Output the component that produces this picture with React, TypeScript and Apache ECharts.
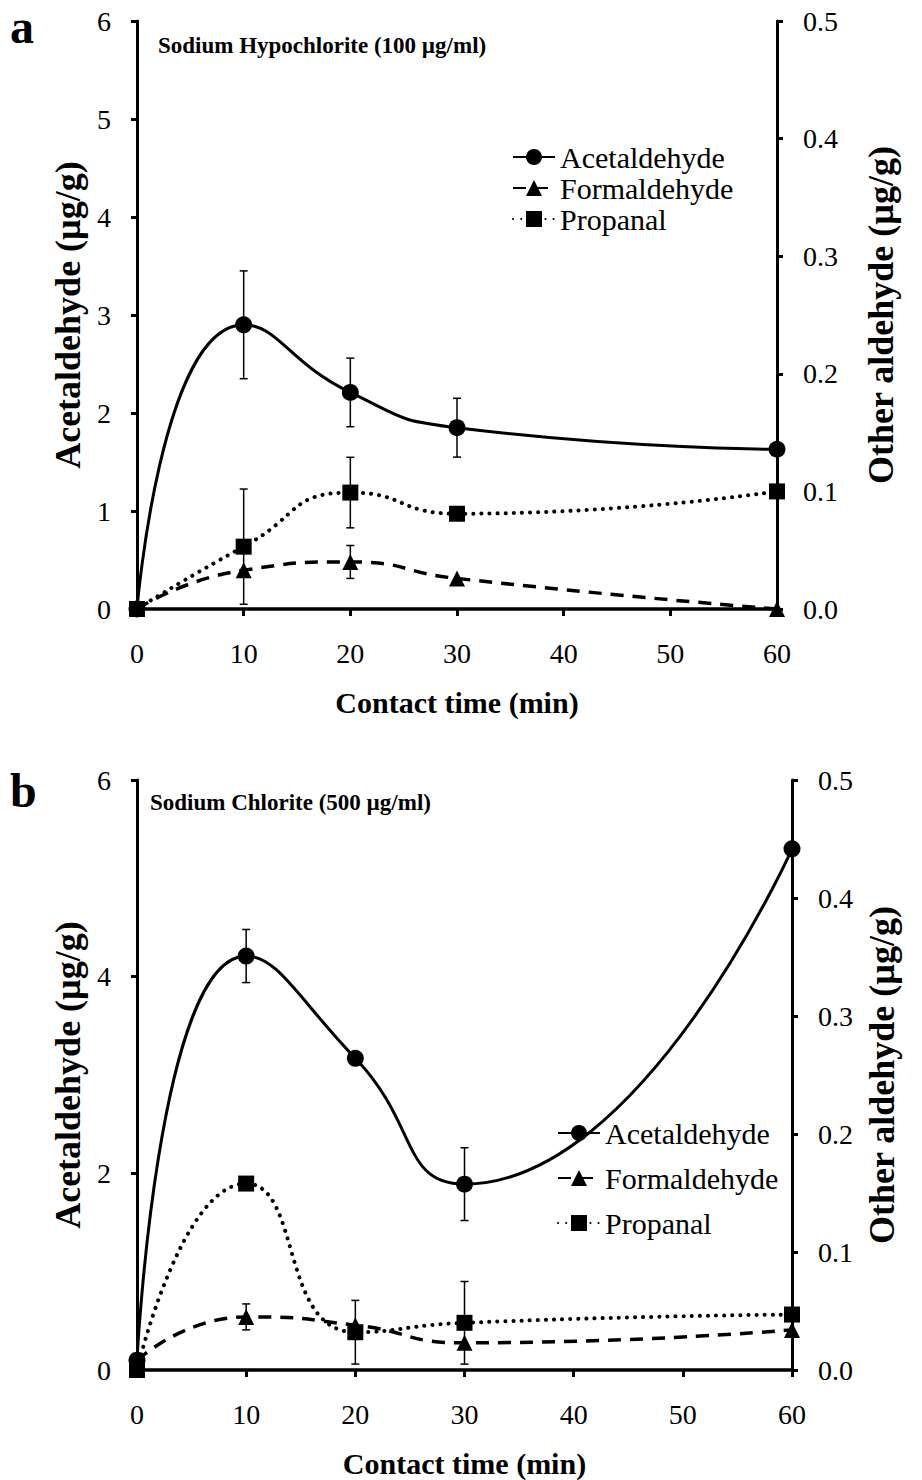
import React, { useEffect, useRef } from "react";
import * as echarts from "echarts";

// Contact time (min)
const contactTimes = [0, 10, 20, 30, 60];
const seriesNames = ["Acetaldehyde", "Formaldehyde", "Propanal"];
const xTicks = [0, 10, 20, 30, 40, 50, 60];

// Panel a: Sodium Hypochlorite (100 µg/ml)
const acetA = [0, 2.9, 2.21, 1.85, 1.63];
const acetAErr = [0, 0.55, 0.35, 0.3, 0];
const formA = [0, 0.033, 0.04, 0.026, 0];
const formAErr = [0, 0, 0.014, 0, 0];
const propA = [0, 0.053, 0.099, 0.081, 0.1];
const propAErr = [0, 0.049, 0.03, 0, 0];

// Panel b: Sodium Chlorite (500 µg/ml)
const acetB = [0.1, 4.21, 3.17, 1.89, 5.3];
const acetBErr = [0, 0.27, 0, 0.37, 0];
const formB = [0.008, 0.045, 0.038, 0.023, 0.034];
const formBErr = [0, 0.011, 0, 0, 0];
const propB = [0, 0.158, 0.032, 0.04, 0.047];
const propBErr = [0, 0, 0.027, 0.035, 0];

const titleA = "Sodium Hypochlorite (100 µg/ml)";
const titleB = "Sodium Chlorite (500 µg/ml)";
const xName = "Contact time (min)";
const yLeftName = "Acetaldehyde (µg/g)";
const yRightName = "Other aldehyde (µg/g)";

const FONT = '"Liberation Serif", "Times New Roman", serif';

const pts = (vals: number[]) => contactTimes.map((x, i) => [x, vals[i]]);
const errPts = (vals: number[], errs: number[]) =>
  contactTimes.map((x, i) => [x, vals[i], errs[i]]);

const errorRender = (params: any, api: any) => {
  const x = api.value(0);
  const y = api.value(1);
  const e = api.value(2);
  if (!e) return null;
  const top = api.coord([x, y + e]);
  const bot = api.coord([x, y - e]);
  const st = { stroke: "#000", lineWidth: 1.5 };
  const cw = 4;
  return {
    type: "group",
    children: [
      { type: "line", shape: { x1: top[0], y1: top[1], x2: bot[0], y2: bot[1] }, style: st },
      { type: "line", shape: { x1: top[0] - cw, y1: top[1], x2: top[0] + cw, y2: top[1] }, style: st },
      { type: "line", shape: { x1: bot[0] - cw, y1: bot[1], x2: bot[0] + cw, y2: bot[1] }, style: st },
    ],
  };
};

const styles: Record<string, any> = {
  Acetaldehyde: {
    symbol: "circle",
    symbolSize: 17,
    lineStyle: { color: "#000", width: 3, type: "solid" },
  },
  Formaldehyde: {
    symbol: "triangle",
    symbolSize: 16,
    lineStyle: { color: "#000", width: 3.5, type: [13, 9] },
  },
  Propanal: {
    symbol: "rect",
    symbolSize: 16,
    lineStyle: { color: "#000", width: 4, type: [0.1, 8], cap: "round" },
  },
};

const lineSeries = (name: string, data: number[], xi: number, yi: number) => ({
  type: "line",
  name,
  data: pts(data),
  xAxisIndex: xi,
  yAxisIndex: yi,
  smooth: 0.55,
  itemStyle: { color: "#000" },
  z: 3,
  ...styles[name],
});

const errSeries = (name: string, data: number[], errs: number[], xi: number, yi: number) => ({
  type: "custom",
  name: name + " error",
  xAxisIndex: xi,
  yAxisIndex: yi,
  data: errPts(data, errs),
  encode: { x: 0, y: 1 },
  renderItem: errorRender,
  z: 2,
  silent: true,
});

const xAxis = (gridIndex: number) => ({
  gridIndex,
  type: "value",
  min: xTicks[0],
  max: xTicks[xTicks.length - 1],
  interval: 10,
  axisLine: { show: true, lineStyle: { color: "#000", width: 3.5 } },
  axisTick: { show: true, length: 7, lineStyle: { color: "#000", width: 3 } },
  splitLine: { show: false },
  axisLabel: { color: "#000", fontSize: 28, fontFamily: FONT, margin: 30 },
  name: xName,
  nameLocation: "middle",
  nameGap: 78,
  nameTextStyle: { color: "#000", fontSize: 30, fontWeight: "bold", fontFamily: FONT },
});

const yLeft = (gridIndex: number, interval: number, nameGap: number) => ({
  gridIndex,
  type: "value",
  position: "left",
  min: 0,
  max: 6,
  interval,
  axisLine: { show: true, lineStyle: { color: "#000", width: 3 } },
  axisTick: { show: true, length: 6, lineStyle: { color: "#000", width: 3 } },
  splitLine: { show: false },
  axisLabel: { color: "#000", fontSize: 28, fontFamily: FONT, margin: 26 },
  name: yLeftName,
  nameLocation: "middle",
  nameGap,
  nameRotate: 90,
  nameTextStyle: { color: "#000", fontSize: 36, fontWeight: "bold", fontFamily: FONT },
});

const yRight = (gridIndex: number, nameGap: number) => ({
  gridIndex,
  type: "value",
  position: "right",
  min: 0,
  max: 0.5,
  interval: 0.1,
  axisLine: { show: true, lineStyle: { color: "#000", width: 3 } },
  axisTick: { show: true, length: 6, lineStyle: { color: "#000", width: 3 } },
  splitLine: { show: false },
  axisLabel: {
    color: "#000",
    fontSize: 28,
    fontFamily: FONT,
    margin: 26,
    formatter: (v: number) => v.toFixed(1),
  },
  name: yRightName,
  nameLocation: "middle",
  nameGap,
  nameRotate: 90,
  nameTextStyle: { color: "#000", fontSize: 36, fontWeight: "bold", fontFamily: FONT },
});

const legend = (left: number, top: number, itemGap: number) => ({
  data: seriesNames,
  orient: "vertical",
  left,
  top,
  itemWidth: 42,
  itemHeight: 20,
  itemGap,
  selectedMode: false,
  textStyle: { color: "#000", fontSize: 30, fontFamily: FONT },
});

export default function App() {
  const ref = useRef<HTMLDivElement>(null);
  useEffect(() => {
    document.body.style.margin = "0";
    if (!ref.current) return;
    const chart = echarts.init(ref.current, null, { renderer: "svg" });
    chart.setOption({
      animation: false,
      backgroundColor: "#fff",
      grid: [
        { left: 137, right: 145, top: 21, height: 588 },
        { left: 137, right: 130, top: 780, height: 590 },
      ],
      xAxis: [xAxis(0), xAxis(1)],
      yAxis: [yLeft(0, 1, 48), yRight(0, 86), yLeft(1, 2, 48), yRight(1, 72)],
      legend: [legend(507, 137, 1), legend(552, 1113, 15)],
      series: [
        errSeries("Acetaldehyde", acetA, acetAErr, 0, 0),
        errSeries("Formaldehyde", formA, formAErr, 0, 1),
        errSeries("Propanal", propA, propAErr, 0, 1),
        lineSeries("Acetaldehyde", acetA, 0, 0),
        lineSeries("Formaldehyde", formA, 0, 1),
        lineSeries("Propanal", propA, 0, 1),
        errSeries("Acetaldehyde", acetB, acetBErr, 1, 2),
        errSeries("Formaldehyde", formB, formBErr, 1, 3),
        errSeries("Propanal", propB, propBErr, 1, 3),
        lineSeries("Acetaldehyde", acetB, 1, 2),
        lineSeries("Formaldehyde", formB, 1, 3),
        lineSeries("Propanal", propB, 1, 3),
      ],
      graphic: [
        { type: "text", left: 10, top: 2, style: { text: "a", font: `bold 48px ${FONT}`, fill: "#000" } },
        { type: "text", left: 10, top: 766, style: { text: "b", font: `bold 48px ${FONT}`, fill: "#000" } },
        { type: "text", left: 158, top: 34, style: { text: titleA, font: `bold 23px ${FONT}`, fill: "#000" } },
        { type: "text", left: 150, top: 791, style: { text: titleB, font: `bold 23px ${FONT}`, fill: "#000" } },
      ],
    });
    return () => chart.dispose();
  }, []);
  return <div ref={ref} style={{ width: 922, height: 1480 }} />;
}
